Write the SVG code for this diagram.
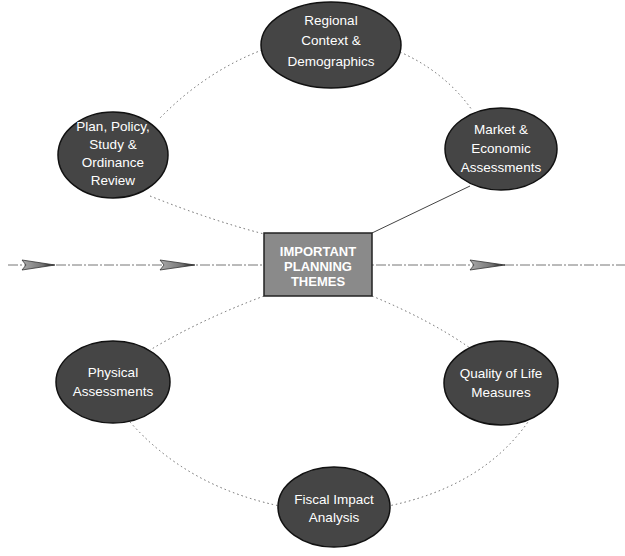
<svg xmlns="http://www.w3.org/2000/svg" width="625" height="556" viewBox="0 0 625 556">
<defs>
<linearGradient id="ag" x1="0" y1="0" x2="1" y2="0">
<stop offset="0" stop-color="#aaa"/>
<stop offset="0.6" stop-color="#777"/>
<stop offset="1" stop-color="#111"/>
</linearGradient>
</defs>
<style>
.ell{fill:#454545;stroke:#111;stroke-width:1.5}
.t{font-family:"Liberation Sans",Arial,sans-serif;font-size:13.5px;fill:#fff;text-anchor:middle}
.tb{font-family:"Liberation Sans",Arial,sans-serif;font-size:13px;font-weight:bold;fill:#fff;text-anchor:middle}
.dot{fill:none;stroke:#666;stroke-width:1;stroke-dasharray:1.5 3}
.axis{fill:none;stroke:#777;stroke-width:1;stroke-dasharray:10 2 2 2}
.arr{fill:url(#ag);stroke:#333;stroke-width:0.8}
</style>
<g id="connectors">
<line class="axis" x1="8" y1="265" x2="625" y2="265"/>
<path class="dot" d="M262,50 Q205,72 160,118"/>
<path class="dot" d="M400,52 Q445,72 472,110"/>
<path class="dot" d="M150,196 Q210,220 264,234"/>
<line x1="372" y1="233" x2="470" y2="186" stroke="#444" stroke-width="1"/>
<path class="dot" d="M264,296 Q200,320 150,350"/>
<path class="dot" d="M372,296 Q430,320 470,348"/>
<path class="dot" d="M130,422 Q190,490 290,508"/>
<path class="dot" d="M378,508 Q480,490 528,422"/>
<polygon class="arr" points="22,260 55,265 22,270 26,265"/>
<polygon class="arr" points="160,260 195,265 160,270 164,265"/>
<polygon class="arr" points="470,260 505,265 470,270 474,265"/>
</g>
<g id="regional">
<ellipse class="ell" cx="331" cy="45" rx="70" ry="43"/>
<text class="t" x="331" y="25">Regional</text>
<text class="t" x="331" y="45">Context &amp;</text>
<text class="t" x="331" y="66">Demographics</text>
</g>
<g id="plan">
<ellipse class="ell" cx="113" cy="155" rx="55" ry="43"/>
<text class="t" x="113" y="131">Plan, Policy,</text>
<text class="t" x="113" y="149">Study &amp;</text>
<text class="t" x="113" y="167">Ordinance</text>
<text class="t" x="113" y="185">Review</text>
</g>
<g id="market">
<ellipse class="ell" cx="501" cy="149" rx="56" ry="41"/>
<text class="t" x="501" y="134">Market &amp;</text>
<text class="t" x="501" y="153">Economic</text>
<text class="t" x="501" y="172">Assessments</text>
</g>
<g id="themes">
<rect x="264" y="233" width="108" height="63" fill="#8a8a8a" stroke="#222" stroke-width="1.5"/>
<text class="tb" x="318" y="256">IMPORTANT</text>
<text class="tb" x="318" y="271">PLANNING</text>
<text class="tb" x="318" y="286">THEMES</text>
</g>
<g id="physical">
<ellipse class="ell" cx="113" cy="382" rx="57" ry="41"/>
<text class="t" x="113" y="377">Physical</text>
<text class="t" x="113" y="396">Assessments</text>
</g>
<g id="quality">
<ellipse class="ell" cx="501" cy="383" rx="57" ry="42"/>
<text class="t" x="501" y="378">Quality of Life</text>
<text class="t" x="501" y="397">Measures</text>
</g>
<g id="fiscal">
<ellipse class="ell" cx="334" cy="507" rx="56" ry="40"/>
<text class="t" x="334" y="504">Fiscal Impact</text>
<text class="t" x="334" y="522">Analysis</text>
</g>
</svg>
